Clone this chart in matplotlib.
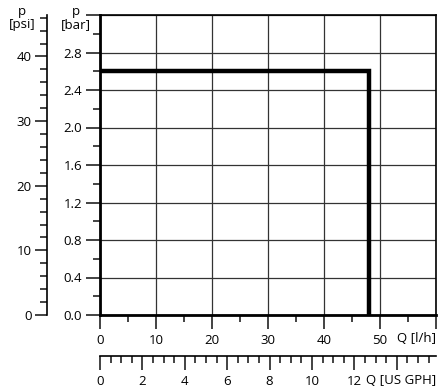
import matplotlib
matplotlib.use("Agg")
import matplotlib.pyplot as plt

plt.rcParams['font.family'] = ['Open Sans', 'DejaVu Sans']
plt.rcParams['font.size'] = 9.5

# data: pump characteristic (pressure vs. flow)
flow_lh = [0, 48, 48]
pressure_bar = [2.6, 2.6, 0]

bar_ticks = [0.0, 0.4, 0.8, 1.2, 1.6, 2.0, 2.4, 2.8, 3.2]
bar_labels = ['0.0', '0.4', '0.8', '1.2', '1.6', '2.0', '2.4', '2.8', '']
lh_ticks = [0, 10, 20, 30, 40, 50, 60]
lh_labels = ['0', '10', '20', '30', '40', '50', '']
psi_ticks = [0, 10, 20, 30, 40]
gph_ticks = [0, 2, 4, 6, 8, 10, 12, 14]
gph_labels = ['0', '2', '4', '6', '8', '10', '12', '']

PSI_PER_BAR = 14.5038
LH_PER_GPH = 3.78541

W, H = 439, 391
fig = plt.figure(figsize=(W / 100, H / 100), dpi=100)
ax = fig.add_axes([100 / W, 76 / H, 336 / W, 300 / H])

ax.plot(flow_lh, pressure_bar, color='black', lw=3.2, solid_joinstyle='miter', zorder=5)

ax.set_xlim(0, 60)
ax.set_ylim(0, 3.2)
ax.set_xticks(lh_ticks, lh_labels)
ax.set_yticks(bar_ticks, bar_labels)
ax.set_xticks([5, 15, 25, 35, 45, 55], minor=True)
ax.set_yticks([0.2, 0.6, 1.0, 1.4, 1.8, 2.2, 2.6, 3.0], minor=True)
ax.grid(True, which='major', color='#333333', lw=0.9)
ax.set_axisbelow(True)

for s in ['top', 'right']:
    ax.spines[s].set_linewidth(1.2)
for s in ['left', 'bottom']:
    ax.spines[s].set_linewidth(2)
ax.tick_params(which='major', length=10, width=1.2, color='#222222', pad=3)
ax.tick_params(which='minor', length=5, width=1.2, color='#222222')
ax.tick_params(axis='x', pad=4)

# psi axis
psi = ax.secondary_yaxis(-53 / 336, functions=(lambda b: b * PSI_PER_BAR, lambda p: p / PSI_PER_BAR))
psi.set_yticks(psi_ticks)
psi.set_yticks(list(range(2, 47, 2)), minor=True)
psi.spines['left'].set_linewidth(1.2)
psi.tick_params(which='major', length=9, width=1.2, color='#222222', pad=2)
psi.tick_params(which='minor', length=5, width=1.2, color='#222222')

# US GPH axis
gph = ax.secondary_xaxis(-41 / 300, functions=(lambda q: q / LH_PER_GPH, lambda g: g * LH_PER_GPH))
gph.set_xticks(gph_ticks, gph_labels)
gph.set_xticks([x * 0.5 for x in range(1, 32) if x % 4], minor=True)
gph.spines['bottom'].set_linewidth(1.2)
gph.tick_params(which='major', length=10, width=1.2, color='#222222', pad=4)
gph.tick_params(which='minor', length=5, width=1.2, color='#222222')

# unit labels
fig.text(436 / W, 1 - 338 / H, 'Q [l/h]', ha='right', va='center')
fig.text(436 / W, 1 - 380 / H, 'Q [US GPH]', ha='right', va='center')
fig.text(22 / W, 1 - 18 / H, 'p\n[psi]', ha='center', va='center', linespacing=0.95)
fig.text(76 / W, 1 - 18 / H, 'p\n[bar]', ha='center', va='center', linespacing=0.95)

fig.savefig('out.png', dpi=100)
